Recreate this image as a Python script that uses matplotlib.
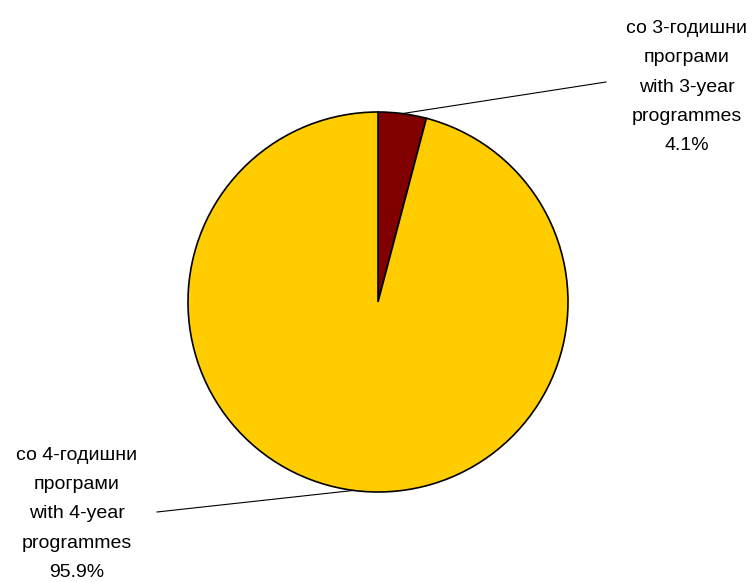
import matplotlib
matplotlib.use("Agg")
import matplotlib.pyplot as plt
import numpy as np

labels = ["со 3-годишни\nпрограми\nwith 3-year\nprogrammes\n4.1%",
          "со 4-годишни\nпрограми\nwith 4-year\nprogrammes\n95.9%"]
values = [4.1, 95.9]
colors = ["#800000", "#FFCC00"]

W, H = 756, 582
fig = plt.figure(figsize=(W / 100, H / 100), dpi=100)
ax = fig.add_axes([0, 0, 1, 1])

cx, cy, r = 378, H - 302, 190
wedges, _ = ax.pie(values, colors=colors, startangle=90, counterclock=False,
                   center=(cx, cy), radius=r, frame=True,
                   wedgeprops=dict(edgecolor="black", linewidth=1.2))
ax.set_xlim(0, W)
ax.set_ylim(0, H)
ax.set_aspect("equal")
ax.axis("off")

# label positions (text centre) and leader start
label_pos = [(687, H - 87), (77, H - 514)]
line_start = [(606, H - 82), (157, H - 512)]

for w, lab, (tx, ty), (lx, ly) in zip(wedges, labels, label_pos, line_start):
    ang = np.deg2rad((w.theta1 + w.theta2) / 2)
    px, py = cx + r * np.cos(ang), cy + r * np.sin(ang)
    ax.plot([lx, px], [ly, py], color="black", linewidth=0.8)
    ax.text(tx, ty, lab, ha="center", va="center", fontsize=14,
            family="Liberation Sans", linespacing=1.96, color="black")

fig.savefig("out.png", dpi=100)
